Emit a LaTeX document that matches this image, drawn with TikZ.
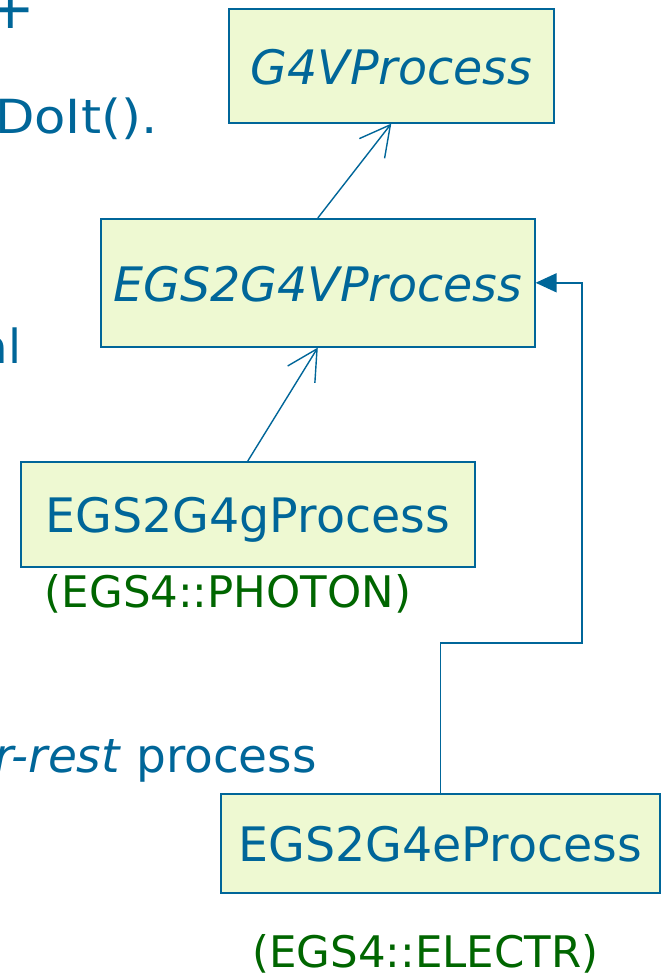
\documentclass[tikz,border=0pt]{standalone}
\usepackage{fontspec}
\usepackage{graphicx}
\setmainfont{DejaVu Sans}
\usetikzlibrary{arrows.meta}
\definecolor{egsblue}{RGB}{0,102,153}
\definecolor{egsgreen}{RGB}{0,102,0}
\definecolor{egsfill}{RGB}{238,249,210}
\begin{document}
\begin{tikzpicture}[x=1pt,y=-1pt,
  cls/.style={draw=egsblue, fill=egsfill, line width=1.6pt, inner sep=0pt,
    text=egsblue, font=\fontsize{47.5}{50}\selectfont,
    text height=37pt, text depth=0pt, anchor=north west},
  tag/.style={text=egsgreen, font=\fontsize{43.5}{46}\selectfont, inner sep=0pt, anchor=base},
  side/.style={text=egsblue, font=\fontsize{47}{50}\selectfont, inner sep=0pt, anchor=base east},
  inh/.style={draw=egsblue, line width=1.4pt, -{Straight Barb[length=30pt,width=32pt,line width=1.4pt]}},
  assoc/.style={draw=egsblue, line width=1.5pt, -{Triangle[length=21pt,width=19pt]}}]
\useasboundingbox (0,0) rectangle (661,977);
\clip (0,0) rectangle (661,977);
\fill[white] (0,0) rectangle (661,977);

% partial text at left
\node[side, font=\fontsize{58}{60}\selectfont, anchor=base] (plus) at (10.5,28) {+};
\node[side] (doit) at (157.6,133) {\scalebox{1.09}[1]{DoIt().}};
\node[side] (al) at (21.5,363) {al};
\node[side] (rest) at (317,772) {\textit{r-rest} process};

% classes
\node[cls, minimum width=325pt, minimum height=114pt] (g4v) at (228,8) {\textit{G4VProcess}};
\node[cls, minimum width=434pt, minimum height=128pt] (egsv) at (100,218) {\textit{EGS2G4VProcess}};
\node[cls, minimum width=454pt, minimum height=105pt] (gproc) at (20,461) {EGS2G4gProcess};
\node[cls, minimum width=439pt, minimum height=99pt] (eproc) at (220,793) {EGS2G4eProcess};

% tags
\node[tag] (ptag) at (228,607) {(EGS4::PHOTON)};
\node[tag] (etag) at (425.5,967) {(EGS4::ELECTR)};

% connectors
\draw[inh] (egsv.north) -- (g4v.south);
\draw[inh] (gproc.north) -- (egsv.south);
\coordinate (bend) at (582,643);
\draw[assoc] (eproc.north) |- (bend) |- (egsv.east);
\end{tikzpicture}
\end{document}
